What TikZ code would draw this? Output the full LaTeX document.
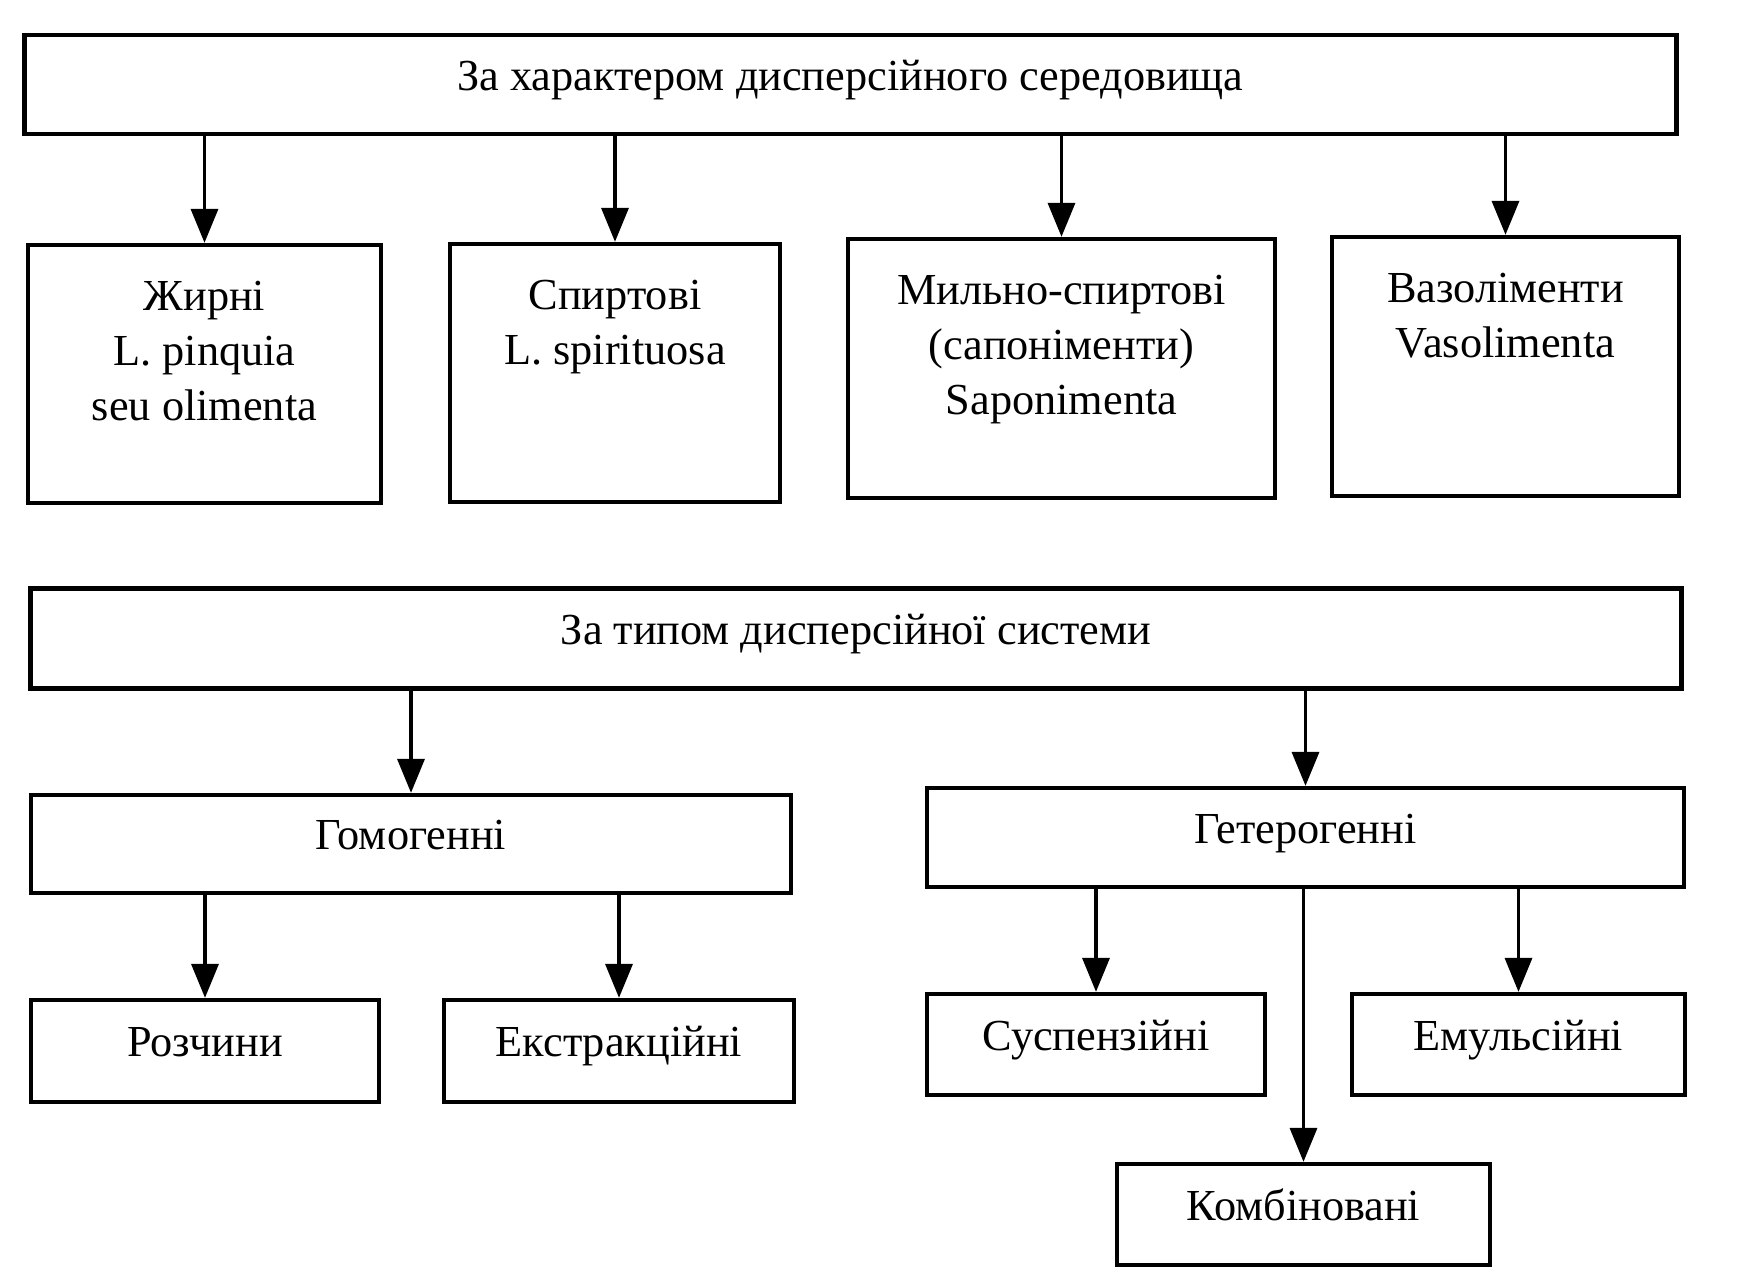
\documentclass[tikz,border=0pt]{standalone}
\usepackage{fontspec}
\setmainfont{Liberation Serif}
\usetikzlibrary{arrows.meta,positioning}
\tikzset{box/.style = {draw, line width=1.2pt, inner sep=0pt, align=center, text height=0.7em, text depth=0.38em},
         arr/.style = {-{Triangle[width=2.7mm,length=3.4mm]}, line width=1pt},
         txt/.style = {inner sep=0pt, align=center}}

\begin{document}
\begin{tikzpicture}[x=0.01cm, y=-0.01cm, font=\fontsize{12.6}{15.65}\selectfont]
\useasboundingbox (0,0) rectangle (1756,1284);
% dispersion medium
\node [box, minimum width=16.51cm, minimum height=0.99cm] (medium) at (850.5,84.5) {За характером дисперсійного середовища};
\node [box, minimum width=3.53cm, minimum height=2.58cm] (fat) at (204.5,374) {};
\node [box, minimum width=3.30cm, minimum height=2.58cm] (spirit) at (615,373) {};
\node [box, minimum width=4.27cm, minimum height=2.59cm] (soap) at (1061.5,368.5) {};
\node [box, minimum width=3.47cm, minimum height=2.59cm] (vaso) at (1505.5,366.5) {};
\node [txt, below=0.38cm of fat.north] (fat-t) {Жирні\\L. pinquia\\seu olimenta};
\node [txt, below=0.38cm of spirit.north] (spirit-t) {Спиртові\\L. spirituosa};
\node [txt, below=0.38cm of soap.north] (soap-t) {Мильно-спиртові\\(сапоніменти)\\Saponimenta};
\node [txt, below=0.38cm of vaso.north] (vaso-t) {Вазоліменти\\Vasolimenta};
\foreach \b in {fat,spirit,soap,vaso}
  \draw [arr] (medium.south -| \b.north) -- (\b.north);

% dispersion system
\node [box, minimum width=16.50cm, minimum height=1.00cm] (system) at (856,638.5) {За типом дисперсійної системи};
\node [box, minimum width=7.60cm, minimum height=0.98cm] (homo) at (411,844) {Гомогенні};
\node [box, minimum width=7.57cm, minimum height=0.99cm] (hetero) at (1305.5,837.5) {Гетерогенні};
\draw [arr] (system.south -| homo.north) -- (homo.north);
\draw [arr] (system.south -| hetero.north) -- (hetero.north);

\node [box, minimum width=3.48cm, minimum height=1.02cm] (solut) at (205,1051) {Розчини};
\node [box, minimum width=3.50cm, minimum height=1.02cm] (extract) at (619,1051) {Екстракційні};
\draw [arr] (homo.south -| solut.north) -- (solut.north);
\draw [arr] (homo.south -| extract.north) -- (extract.north);

\node [box, minimum width=3.38cm, minimum height=1.01cm] (susp) at (1096,1044.5) {Суспензійні};
\node [box, minimum width=3.33cm, minimum height=1.01cm] (emuls) at (1518.5,1044.5) {Емульсійні};
\node [box, minimum width=3.73cm, minimum height=1.01cm] (comb) at (1303.5,1214.5) {Комбіновані};
\draw [arr] (hetero.south -| susp.north) -- (susp.north);
\draw [arr] (hetero.south -| comb.north) -- (comb.north);
\draw [arr] (hetero.south -| emuls.north) -- (emuls.north);
\end{tikzpicture}
\end{document}
